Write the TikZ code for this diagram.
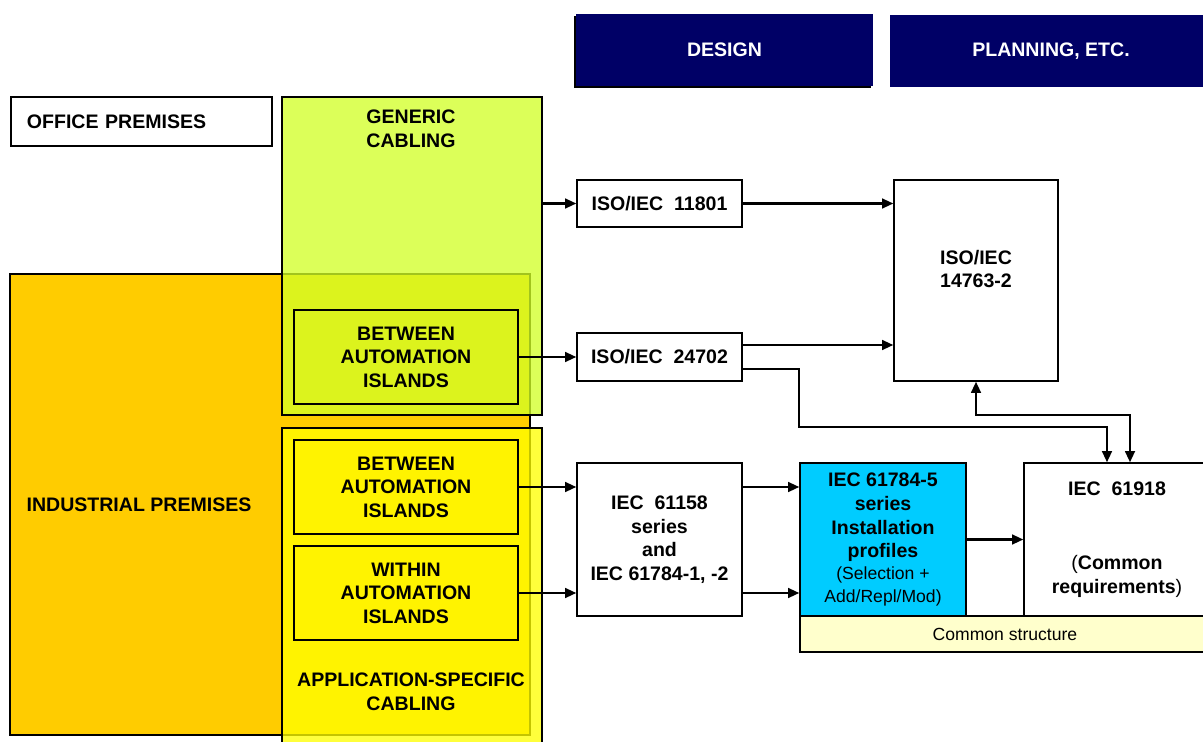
\documentclass[tikz,border=0pt]{standalone}
\usepackage{fontspec}
\setmainfont{Liberation Sans}
\usetikzlibrary{arrows.meta,shadows}

\definecolor{navyBox}{HTML}{000066}
\definecolor{orangePrem}{HTML}{FFCC00}
\definecolor{limeCab}{RGB}{210,255,39}
\definecolor{yellowCab}{HTML}{FFFF00}
\definecolor{cyanProf}{HTML}{00CCFF}
\definecolor{creamBar}{HTML}{FFFFCC}

\begin{document}
\begin{tikzpicture}
  [x=0.025cm,y=-0.025cm,
  font=\fontsize{13.9}{16.8}\selectfont\bfseries,
  box/.style={rectangle,draw=black,line width=1pt,inner sep=0pt,align=center},
  std/.style={box,fill=white},
  head/.style={rectangle,fill=navyBox,text=white,minimum width=7.425cm,minimum height=1.8cm},
  zone/.style={box,fill opacity=0.77,text opacity=1},
  isl/.style={box,minimum width=5.6cm,minimum height=2.35cm},
  lab/.style={align=center,inner sep=0pt},
  sm/.style={font=\fontsize{12.5}{15.6}\selectfont},
  post/.style={-{Triangle[length=8pt,width=7pt]},line width=1.5pt,draw},
  both/.style={{Triangle[length=8pt,width=7pt]}-{Triangle[length=8pt,width=7pt]},line width=1.5pt,draw}]

  \useasboundingbox (0,0) rectangle (1203,742);

  \node[head,drop shadow={shadow xshift=-0.06cm,shadow yshift=-0.06cm,fill=black,opacity=1}] (des) at (724.5,50) {DESIGN};
  \node[head,minimum width=8.05cm] (plan) at (1051,51) {PLANNING, ETC.};

  \node[std,minimum width=6.525cm,minimum height=1.225cm,text width=5.725cm,align=left] (off) at (141.5,121.5) {OFFICE PREMISES};

  % premises and cabling zones
  \node[box,fill=orangePrem,minimum width=13cm,minimum height=11.525cm] (ind) at (270,504.5) {};
  \node[zone,fill=limeCab,minimum width=6.5cm,minimum height=7.95cm] (gen) at (412,256) {};
  \node[zone,fill=yellowCab,minimum width=6.5cm,minimum height=8.05cm] (app) at (412,589) {};

  \node[lab] (indtxt) at (139,505) {INDUSTRIAL PREMISES};
  \node[lab] (gentxt) at (411,129) {GENERIC\\CABLING};
  \node[lab] (apptxt) at (411,692) {APPLICATION-SPECIFIC\\CABLING};

  \node[isl] (btwA) at (406,357) {BETWEEN\\AUTOMATION\\ISLANDS};
  \node[isl] (btwB) at (406,487) {BETWEEN\\AUTOMATION\\ISLANDS};
  \node[isl] (inside) at (406,593) {WITHIN\\AUTOMATION\\ISLANDS};

  % standards
  \node[std,minimum width=4.125cm,minimum height=1.175cm] (iso1) at (659.5,203.5) {ISO/IEC~~11801};
  \node[std,minimum width=4.125cm,minimum height=1.2cm] (iso2) at (659.5,357) {ISO/IEC~~24702};
  \node[std,minimum width=4.1cm,minimum height=5.025cm] (iso3) at (976,280.5) {};
  \node[lab] (iso3txt) at (976,269) {ISO/IEC\\14763-2};

  \node[std,minimum width=4.125cm,minimum height=3.825cm] (fb) at (659.5,539.5)
    {IEC~~61158\\series\\and\\IEC 61784-1, -2};
  \node[box,fill=cyanProf,minimum width=4.15cm,minimum height=3.825cm] (inst) at (883,539.5)
    {IEC 61784-5\\series\\Installation\\profiles\\[-1pt]{\mdseries\fontsize{12.5}{15.6}\selectfont(Selection +}\\[-1pt]{\mdseries\fontsize{12.5}{15.6}\selectfont Add/Repl/Mod)}};
  \node[std,minimum width=4.65cm,minimum height=3.825cm] (cr) at (1117,539.5)
    {IEC~~61918\\[36pt]{\mdseries(}Common\\requirements{\mdseries)}};
  \node[box,fill=creamBar,minimum width=10.25cm,minimum height=0.9cm,sm] (cs) at (1005,634) {Common structure};

  % connectors
  \draw[post] (gen.east |- iso1) -- (iso1);
  \draw[post] (btwA) -- (iso2);
  \draw[post] (iso1) -- (iso1 -| iso3.west);
  \draw[post] ([yshift=0.3cm]iso2.east) -- ([yshift=0.3cm]iso2.east -| iso3.west);
  \draw[post] ([yshift=-0.3cm]iso2.east) -| ([yshift=0.875cm]inst.north west) -| ([xshift=-0.25cm]cr.north);
  \draw[both] (iso3.south) |- ([xshift=0.325cm,yshift=1.175cm]cr.north) -- ([xshift=0.325cm]cr.north);

  \draw[post] (btwB) -- (btwB -| fb.west);
  \draw[post] (inside) -- (inside -| fb.west);
  \draw[post] (btwB -| fb.east) -- (btwB -| inst.west);
  \draw[post] (inside -| fb.east) -- (inside -| inst.west);
  \draw[post] (inst) -- (cr);
\end{tikzpicture}
\end{document}
